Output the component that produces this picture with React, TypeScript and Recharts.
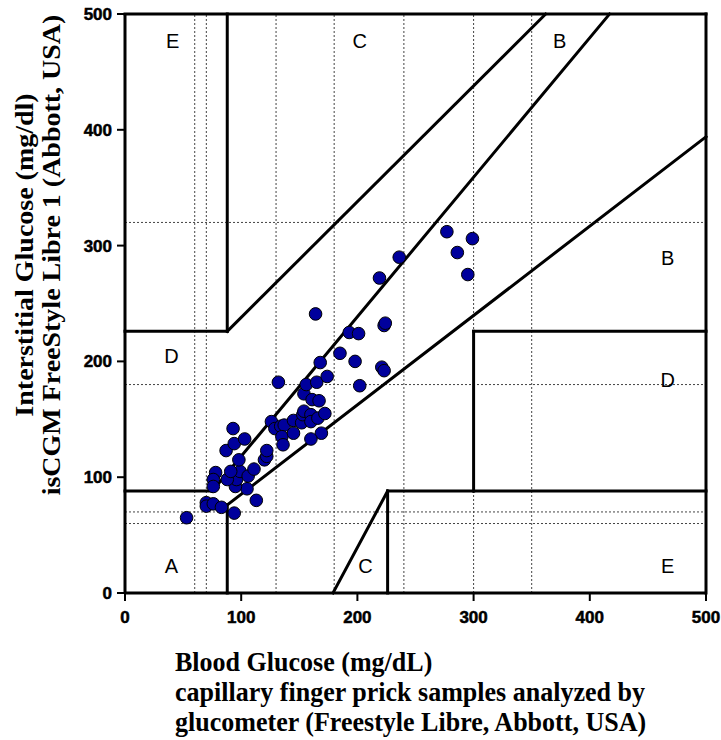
import React from "react";
import { ScatterChart, Scatter, XAxis, YAxis, ReferenceLine, Label } from "recharts";

const AXIS_TICKS = [0, 100, 200, 300, 400, 500];

// capillary blood glucose (x) vs isCGM reading (y), mg/dL
const BLOOD_GLUCOSE = [
  53, 70, 70, 76, 83, 94, 113, 105, 95, 96, 99, 106, 111, 78, 76, 76, 88, 91, 98, 87,
  94, 103, 93, 120, 122, 122, 126, 129, 134, 137, 135, 136, 132, 145, 145, 152, 153, 154, 160, 160,
  166, 172, 169, 160, 154, 161, 167, 156, 165, 174, 168, 164, 185, 193, 201, 198, 202, 221, 223, 223,
  224, 219, 236, 277, 299, 286, 295,
];
const ISCGM = [
  65, 78, 75, 77, 74, 69, 80, 90, 92, 98, 105, 101, 107, 104, 98, 92, 98, 105, 115, 123,
  129, 133, 142, 115, 118, 123, 148, 142, 144, 145, 135, 128, 182, 149, 138, 147, 154, 157, 154, 148,
  151, 155, 138, 133, 172, 167, 166, 180, 182, 187, 199, 241, 207, 225, 224, 200, 179, 195, 192, 231,
  233, 272, 290, 312, 306, 294, 275,
];

// thin dotted guide lines
const DASHED_X = [60, 70, 130, 180, 240, 300, 350];
const DASHED_Y = [60, 70, 180, 320];

// zone boundaries: x1, y1, x2, y2
const ZONE_LINES: number[][] = [
  [0, 88, 75, 88],
  [75, 88, 417, 500],
  [88, 0, 88, 76],
  [88, 76, 500, 394],
  [0, 226, 88, 226],
  [88, 226, 88, 500],
  [88, 226, 362, 500],
  [179, 0, 226, 88],
  [226, 0, 226, 88],
  [226, 88, 500, 88],
  [300, 88, 300, 226],
  [300, 226, 500, 226],
  [0, 500, 500, 500],
  [500, 0, 500, 500],
];

const ZONE_NAMES = ["E", "C", "B", "B", "D", "D", "A", "C", "E"];
const ZONE_X = [41, 202, 374, 467, 40, 467, 40, 207, 467];
const ZONE_Y = [477, 477, 477, 289, 205, 184, 23, 23, 23];

const points = BLOOD_GLUCOSE.map((x, i) => ({ x, y: ISCGM[i] }));
const zoneLabels = ZONE_NAMES.map((name, i) => ({ x: ZONE_X[i], y: ZONE_Y[i], name }));

const serif = "Liberation Serif, Times New Roman, serif";
const sans = "Liberation Sans, Arial, sans-serif";

// tick numbers are heavy in the source, so give them a hairline outline too
const XTick = (p: any) => (
  <text
    x={p.x}
    y={p.y}
    dy={18}
    textAnchor="middle"
    fontFamily={sans}
    fontWeight={700}
    fontSize={17}
    fill="#000"
    stroke="#000"
    strokeWidth={0.5}
  >
    {p.payload.value}
  </text>
);

const YTick = (p: any) => (
  <text
    x={p.x - 1}
    y={p.y}
    dy={6}
    textAnchor="end"
    fontFamily={sans}
    fontWeight={700}
    fontSize={17}
    fill="#000"
    stroke="#000"
    strokeWidth={0.5}
  >
    {p.payload.value}
  </text>
);

// the source figure's titles are a tall, narrow bold serif
const XTitle = () => (
  <text fontFamily={serif} fontWeight={700} fontSize={28} fill="#000" transform="translate(175,0) scale(0.93,1)">
    <tspan x={0} y={671}>Blood Glucose (mg/dL)</tspan>
    <tspan x={0} y={701}>capillary finger prick samples analyzed by</tspan>
    <tspan x={0} y={731}>glucometer (Freestyle Libre, Abbott, USA)</tspan>
  </text>
);

const YTitle = () => (
  <text
    fontFamily={serif}
    fontWeight={700}
    fontSize={28}
    fill="#000"
    textAnchor="middle"
    transform="scale(0.93,1) rotate(-90)"
  >
    <tspan x={-255} y={35}>Interstitial Glucose (mg/dl)</tspan>
    <tspan x={-255} y={65}>isCGM FreeStyle Libre 1 (Abbott, USA)</tspan>
  </text>
);

export default function App() {
  return (
    <div style={{ position: "absolute", left: 0, top: 0, background: "#fff" }}>
      <ScatterChart width={721} height={740} margin={{ top: 14, right: 15, bottom: 117, left: 0 }}>
        <XAxis
          dataKey="x"
          type="number"
          domain={[0, 500]}
          ticks={AXIS_TICKS}
          allowDataOverflow
          height={30}
          tickSize={8}
          tickMargin={4}
          tick={XTick}
          tickLine={{ stroke: "#000", strokeWidth: 2 }}
          axisLine={{ stroke: "#000", strokeWidth: 3 }}
        >
          <Label content={XTitle} />
        </XAxis>
        <YAxis
          dataKey="y"
          type="number"
          domain={[0, 500]}
          ticks={AXIS_TICKS}
          allowDataOverflow
          width={125}
          tickSize={8}
          tickMargin={4}
          tick={YTick}
          tickLine={{ stroke: "#000", strokeWidth: 2 }}
          axisLine={{ stroke: "#000", strokeWidth: 3 }}
        >
          <Label content={YTitle} />
        </YAxis>
        {DASHED_X.map((v) => (
          <ReferenceLine key={`dx${v}`} x={v} stroke="#444" strokeWidth={1} strokeDasharray="2 2" />
        ))}
        {DASHED_Y.map((v) => (
          <ReferenceLine key={`dy${v}`} y={v} stroke="#444" strokeWidth={1} strokeDasharray="2 2" />
        ))}
        {ZONE_LINES.map(([x1, y1, x2, y2], i) => (
          <ReferenceLine
            key={`z${i}`}
            segment={[{ x: x1, y: y1 }, { x: x2, y: y2 }]}
            stroke="#000"
            strokeWidth={3}
            strokeLinecap="square"
          />
        ))}
        <Scatter
          data={zoneLabels}
          isAnimationActive={false}
          shape={(p: any) => (
            <text x={p.cx} y={p.cy} dy={7} textAnchor="middle" fontFamily={sans} fontSize={20} fill="#000">
              {p.payload.name}
            </text>
          )}
        />
        <Scatter
          data={points}
          isAnimationActive={false}
          shape={(p: any) => (
            <circle cx={p.cx} cy={p.cy} r={6.3} fill="#00009c" stroke="#000" strokeWidth={1} />
          )}
        />
      </ScatterChart>
    </div>
  );
}
